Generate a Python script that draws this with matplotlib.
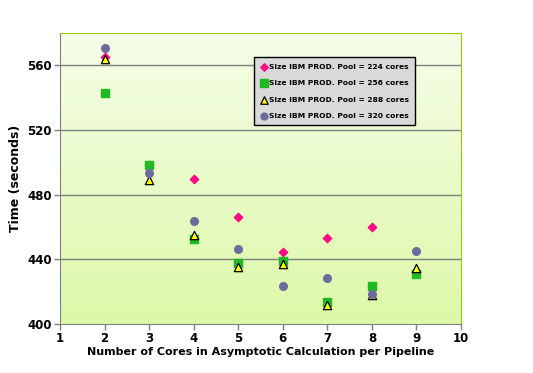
import numpy as np
import matplotlib.pyplot as plt
from matplotlib.colors import LinearSegmentedColormap

cores = [2, 3, 4, 5, 6, 7, 8, 9]
pool_224 = [565.4, 498.6, 489.5, 466.4, 444.7, 453.4, 459.8, 432.0]
pool_256 = [542.7, 498.6, 452.8, 438.0, 438.8, 413.8, 423.3, 431.0]
pool_288 = [563.7, 489.1, 455.0, 435.5, 437.0, 411.5, 418.0, 434.8]
pool_320 = [570.5, 493.6, 463.7, 446.2, 423.7, 428.2, 418.4, 445.2]
labels = ["Size IBM PROD. Pool = 224 cores", "Size IBM PROD. Pool = 256 cores",
          "Size IBM PROD. Pool = 288 cores", "Size IBM PROD. Pool = 320 cores"]

plt.rcParams["font.family"] = "DejaVu Sans"
plt.rcParams["font.weight"] = "bold"

fig = plt.figure(figsize = (5.33, 3.73), dpi = 100)
ax = fig.add_axes([0.1126, 0.1314, 0.7524, 0.7801])

# gradient background
cmap = LinearSegmentedColormap.from_list("bg", ["#f6fde9", "#dcf9a8"])
grad = np.linspace(0, 1, 256).reshape(-1, 1)
ax.imshow(grad, extent = [0, 1, 0, 1], transform = ax.transAxes, cmap = cmap,
          aspect = "auto", origin = "upper", zorder = 0)

for y in [440, 480, 520, 560]:
    ax.axhline(y, color = "#808080", lw = 1, zorder = 1)

ax.scatter(cores, pool_224, marker = "D", s = 18, color = "#ff0a84", label = labels[0], zorder = 3)
ax.scatter(cores, pool_256, marker = "s", s = 34, color = "#22b822", label = labels[1], zorder = 4)
ax.scatter(cores, pool_288, marker = "^", s = 36, color = "#ffff00", edgecolors = "black",
           linewidths = 0.9, label = labels[2], zorder = 5)
ax.scatter(cores, pool_320, marker = "o", s = 30, color = "#6b6b9c", label = labels[3], zorder = 6)

ax.set_xlim(1, 10)
ax.set_ylim(400, 580)
ax.set_xticks(range(1, 11))
ax.set_yticks([400, 440, 480, 520, 560])
ax.tick_params(labelsize = 8.5, direction = "out", length = 4, color = "#808080", width = 1, pad = 2)
for lab in ax.get_xticklabels() + ax.get_yticklabels():
    lab.set_fontweight("bold")

for side in ["left", "bottom"]:
    ax.spines[side].set_color("#808080")
for side in ["top", "right"]:
    ax.spines[side].set_color("#99cc00")

ax.set_xlabel("Number of Cores in Asymptotic Calculation per Pipeline", fontsize = 8,
              fontweight = "bold", labelpad = 1)
ax.set_ylabel("Time (seconds)", fontsize = 9, fontweight = "bold", labelpad = 4)

leg = ax.legend(loc = "upper left", bbox_to_anchor = (0.475, 0.93), fontsize = 5.4,
                frameon = True, fancybox = False, handletextpad = 0.1, borderpad = 0.85,
                labelspacing = 1.35, handlelength = 1.0, markerscale = 0.9)
leg.get_frame().set_facecolor("#d9d9d9")
leg.get_frame().set_edgecolor("black")
leg.get_frame().set_alpha(1)
leg.get_frame().set_linewidth(1)
for t in leg.get_texts():
    t.set_fontweight("bold")

fig.savefig("out.png", dpi = 100)
